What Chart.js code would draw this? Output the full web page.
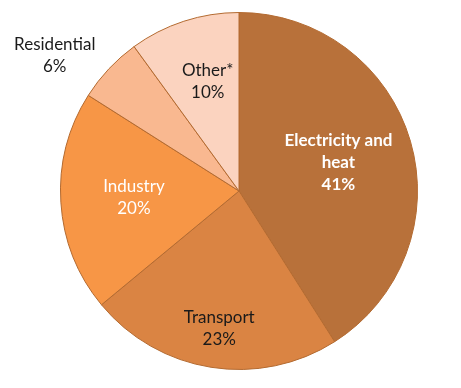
<!DOCTYPE html>
<html>
<head>
<meta charset="utf-8">
<script src="https://cdn.jsdelivr.net/npm/chart.js@4"></script>
<style>
  html, body { margin: 0; padding: 0; background: #fff; }
  #wrap { width: 461px; height: 388px; }
</style>
</head>
<body>
<div id="wrap"><canvas id="pie" width="461" height="388"></canvas></div>
<script>
const categories = ['Electricity and heat', 'Transport', 'Industry', 'Residential', 'Other*'];
const shares = [41, 23, 20, 6, 10];
const labelLines = [['Electricity and', 'heat'], ['Transport'], ['Industry'], ['Residential'], ['Other*']];

const sliceColors = ['#B8713A', '#DA8443', '#F79646', '#F9B890', '#FBD3BF'];
const textColors = ['#ffffff', '#1a1a1a', '#ffffff', '#1a1a1a', '#1a1a1a'];
const textBold = [true, false, false, false, false];
// how far from the centre each label sits, as a share of the radius, plus a small nudge
const labelDist = [0.58, 0.78, 0.59, 1.27, 0.64];
const labelNudge = [[0, 0], [2, 0], [0, 0], [-19, 20], [4, -1]];

const sliceLabels = {
    id: 'sliceLabels',
    afterDatasetsDraw(chart) {
        const ctx = chart.ctx;
        const meta = chart.getDatasetMeta(0);
        meta.data.forEach(function(arc, i) {
            const mid = (arc.startAngle + arc.endAngle) / 2;
            const r = arc.outerRadius * labelDist[i];
            const x = arc.x + Math.cos(mid) * r + labelNudge[i][0];
            const y = arc.y + Math.sin(mid) * r + labelNudge[i][1];
            const lines = labelLines[i].concat([shares[i] + '%']);
            const lh = 22;
            ctx.save();
            ctx.font = (textBold[i] ? 'bold ' : '') + '17px Lato, "Open Sans", sans-serif';
            ctx.fillStyle = textColors[i];
            ctx.textAlign = 'center';
            ctx.textBaseline = 'middle';
            const top = y - (lines.length - 1) * lh / 2;
            lines.forEach(function(t, k) {
                ctx.fillText(t, x, top + k * lh);
            });
            ctx.restore();
        });
    }
};

new Chart(document.getElementById('pie').getContext('2d'), {
    type: 'pie',
    data: {
        labels: categories,
        datasets: [{
            data: shares,
            backgroundColor: sliceColors,
            borderColor: '#B36A30',
            borderWidth: 1
        }]
    },
    options: {
        responsive: false,
        animation: false,
        layout: {
            padding: { top: 12, bottom: 18, left: 60, right: 43 }
        },
        plugins: {
            legend: { display: false },
            tooltip: { enabled: false }
        }
    },
    plugins: [sliceLabels]
});
</script>
</body>
</html>
